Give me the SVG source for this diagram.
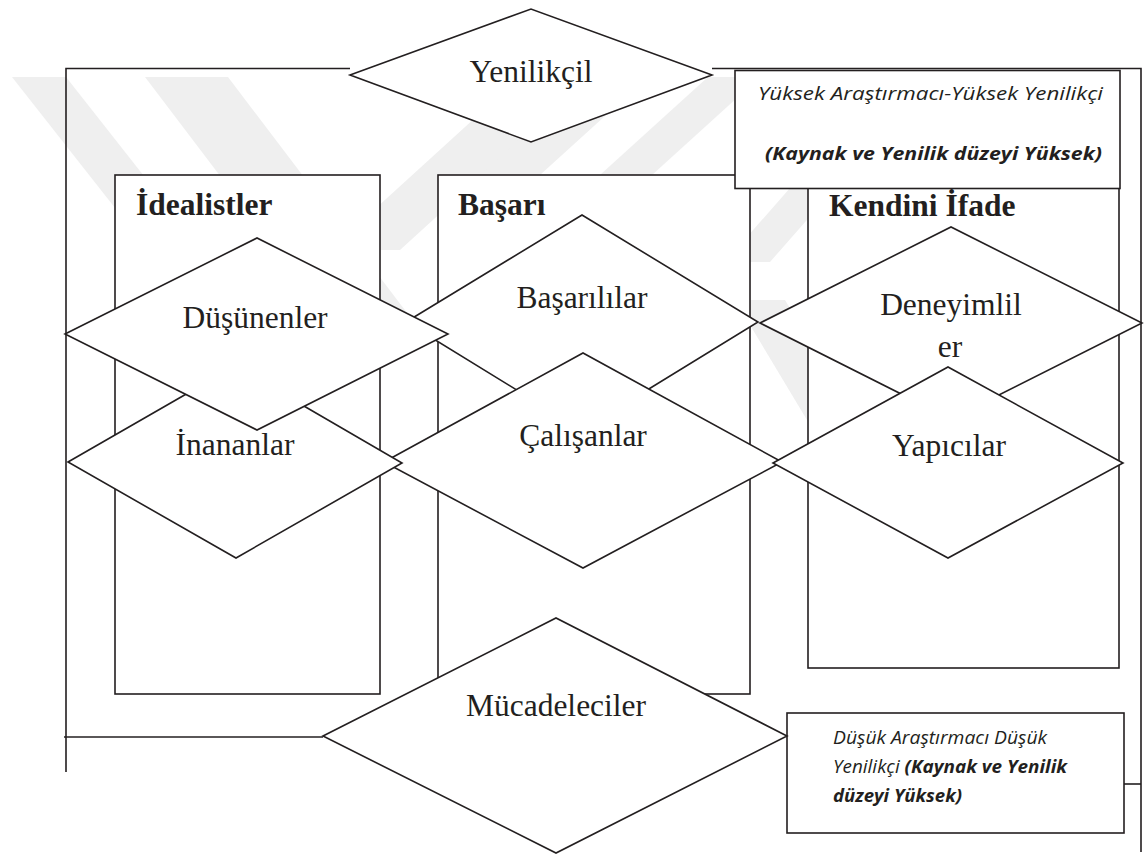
<svg xmlns="http://www.w3.org/2000/svg" width="1144" height="855" viewBox="0 0 1144 855">
  <style>
    .ln { fill: none; stroke: #231f20; stroke-width: 1.6; }
    .shape { fill: #ffffff; stroke: #231f20; stroke-width: 1.6; stroke-linejoin: miter; }
    .lbl { font-family: "Liberation Serif", "Times New Roman", serif; font-size: 31.5px; fill: #231f20; text-anchor: middle; }
    .head { font-family: "Liberation Serif", "Times New Roman", serif; font-size: 31.5px; font-weight: bold; fill: #231f20; }
    .note { font-family: "Open Sans", "Liberation Sans", sans-serif; font-size: 17.5px; font-style: italic; fill: #231f20; }
    .note-b { font-weight: bold; }
    .stripe { fill: #efefef; stroke: none; }
  </style>

  <rect width="1144" height="855" fill="#ffffff"/>

  <!-- faint diagonal background stripes -->
  <g id="background-stripes">
    <polygon class="stripe" points="12,77 66,77 210,260 156,260"/>
    <polygon class="stripe" points="145,77 228,77 420,330 337,330"/>
    <polygon class="stripe" points="520,77 590,77 400,250 330,250"/>
    <polygon class="stripe" points="588,77 648,77 540,175 480,175"/>
    <polygon class="stripe" points="708,77 760,77 652,175 600,175"/>
    <polygon class="stripe" points="790,188 835,188 770,262 725,262"/>
    <polygon class="stripe" points="735,300 785,300 875,450 825,450"/>
  </g>

  <!-- frame lines joining the corner diamonds and the note boxes -->
  <g id="connectors">
    <polyline class="ln" points="66,772 66,68.5 350,68.5"/>
    <polyline class="ln" points="712,68.5 1141,68.5 1141,852"/>
    <line class="ln" x1="64" y1="737" x2="323" y2="737"/>
    <line class="ln" x1="1124" y1="784" x2="1141" y2="784"/>
  </g>

  <!-- column boxes -->
  <g id="idealistler">
    <rect class="shape" x="115" y="175" width="265" height="519"/>
    <text class="head" x="136" y="215">İdealistler</text>
  </g>
  <g id="basari">
    <rect class="shape" x="438" y="175" width="312" height="519"/>
    <text class="head" x="458" y="215">Başarı</text>
  </g>
  <g id="kendini-ifade">
    <rect class="shape" x="808" y="175" width="311" height="493"/>
    <text class="head" x="829" y="216">Kendini İfade</text>
  </g>

  <!-- note boxes -->
  <g id="yuksek-not">
    <rect class="shape" x="735" y="70.5" width="385" height="118"/>
    <text class="note" x="758" y="100" textLength="345" lengthAdjust="spacingAndGlyphs">Yüksek Araştırmacı-Yüksek Yenilikçi</text>
    <text class="note note-b" x="765" y="160" textLength="337" lengthAdjust="spacingAndGlyphs">(Kaynak ve Yenilik düzeyi Yüksek)</text>
  </g>
  <g id="dusuk-not">
    <rect class="shape" x="787" y="713" width="337" height="120"/>
    <text class="note" x="833" y="744" textLength="214" lengthAdjust="spacingAndGlyphs">Düşük Araştırmacı Düşük</text>
    <text class="note" x="833" y="773" textLength="234" lengthAdjust="spacingAndGlyphs">Yenilikçi <tspan class="note-b">(Kaynak ve Yenilik</tspan></text>
    <text class="note note-b" x="833" y="802" textLength="129" lengthAdjust="spacingAndGlyphs">düzeyi Yüksek)</text>
  </g>

  <!-- diamonds, back to front -->
  <g id="basarililar">
    <polygon class="shape" points="406,322 582,215 758,322 582,430"/>
    <text class="lbl" x="582" y="308">Başarılılar</text>
  </g>
  <g id="deneyimliler">
    <polygon class="shape" points="760,323 951,227 1142,323 951,419"/>
    <text class="lbl" x="951" y="315">Deneyimlil</text>
    <text class="lbl" x="950" y="357">er</text>
  </g>
  <g id="calisanlar">
    <polygon class="shape" points="384,462 583,353 782,462 583,568"/>
    <text class="lbl" x="583" y="446">Çalışanlar</text>
  </g>
  <g id="yapicilar">
    <polygon class="shape" points="773,463 948,367 1123,463 948,558"/>
    <text class="lbl" x="949" y="456">Yapıcılar</text>
  </g>
  <g id="inananlar">
    <polygon class="shape" points="68,462 235,366 402,463 236,558"/>
    <text class="lbl" x="235" y="455">İnananlar</text>
  </g>
  <g id="dusunenler">
    <polygon class="shape" points="65,334 257,238 448,334 257,430"/>
    <text class="lbl" x="255" y="328">Düşünenler</text>
  </g>
  <g id="yenilikcil">
    <polygon class="shape" points="350,75 531,9 712,75 531,142"/>
    <text class="lbl" x="531" y="82">Yenilikçil</text>
  </g>
  <g id="mucadeleciler">
    <polygon class="shape" points="323,736 556,618 787,736 556,853"/>
    <text class="lbl" x="556" y="716">Mücadeleciler</text>
  </g>
</svg>
